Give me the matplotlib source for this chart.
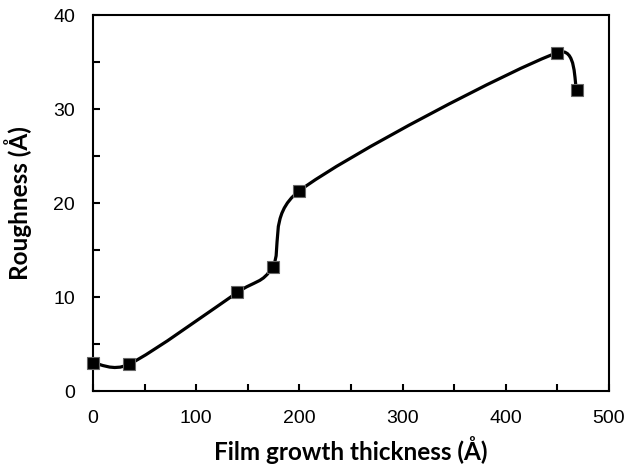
import numpy as np
import matplotlib
matplotlib.use("Agg")
import matplotlib.pyplot as plt
from matplotlib.path import Path
from matplotlib.patches import PathPatch

plt.rcParams['font.family'] = ['Liberation Sans', 'DejaVu Sans']

# data
thickness = [0, 35, 140, 174, 200, 450, 469]
roughness = [3.0, 2.85, 10.5, 13.2, 21.3, 36.0, 32.0]


def excel_smooth(ax, xs, ys):
    # Excel-style smoothed line: cubic bezier segments, control arms
    # of tension 1/6 capped at half the segment length (in pixel space)
    pts = ax.transData.transform(np.column_stack([xs, ys]))
    n = len(pts)
    verts = [pts[0]]
    codes = [Path.MOVETO]
    for i in range(n - 1):
        p0 = pts[max(i - 1, 0)]
        p1 = pts[i]
        p2 = pts[i + 1]
        p3 = pts[min(i + 2, n - 1)]
        d12 = np.linalg.norm(p2 - p1)
        d02 = np.linalg.norm(p2 - p0)
        d13 = np.linalg.norm(p3 - p1)
        f1 = 1 / 6 if d02 / 6 < d12 / 2 else (d12 / 2) / d02
        f2 = 1 / 6 if d13 / 6 < d12 / 2 else (d12 / 2) / d13
        c1 = p1 + f1 * (p2 - p0)
        c2 = p2 - f2 * (p3 - p1)
        verts += [c1, c2, p2]
        codes += [Path.CURVE4] * 3
    verts = ax.transData.inverted().transform(np.array(verts))
    return Path(verts, codes)


fig = plt.figure(figsize=(6.3, 4.7), dpi=100)
ax = fig.add_axes([0.1476, 0.168, 0.819, 0.80])

ax.set_xlim(0, 500)
ax.set_ylim(0, 40)
ax.set_xticks(np.arange(0, 501, 100))
ax.set_xticks(np.arange(50, 500, 100), minor=True)
ax.set_yticks(np.arange(0, 41, 10))
ax.set_yticks(np.arange(5, 40, 10), minor=True)

ax.tick_params(which='both', direction='in', length=5, width=1.5,
               top=False, right=False)
ax.tick_params(axis='x', which='major', pad=14, labelsize=14)
ax.tick_params(axis='y', which='major', pad=13, labelsize=14)
for s in ax.spines.values():
    s.set_linewidth(1.5)
    s.set_color('black')

path = excel_smooth(ax, thickness, roughness)
ax.add_patch(PathPatch(path, facecolor='none', edgecolor='black', lw=2.3,
                       capstyle='round', zorder=2))
ax.plot(thickness, roughness, linestyle='none', marker='s', markersize=8,
        markerfacecolor='black', markeredgecolor='#666666',
        markeredgewidth=0.8, zorder=3, clip_on=False)

ax.set_xlabel('Film growth thickness (Å)', fontsize=17.5, fontweight='bold',
              family='Lato', labelpad=6)
ax.set_ylabel('Roughness (Å)', fontsize=17.5, fontweight='bold',
              family='Lato', labelpad=15)

fig.savefig('out.png', dpi=100)
